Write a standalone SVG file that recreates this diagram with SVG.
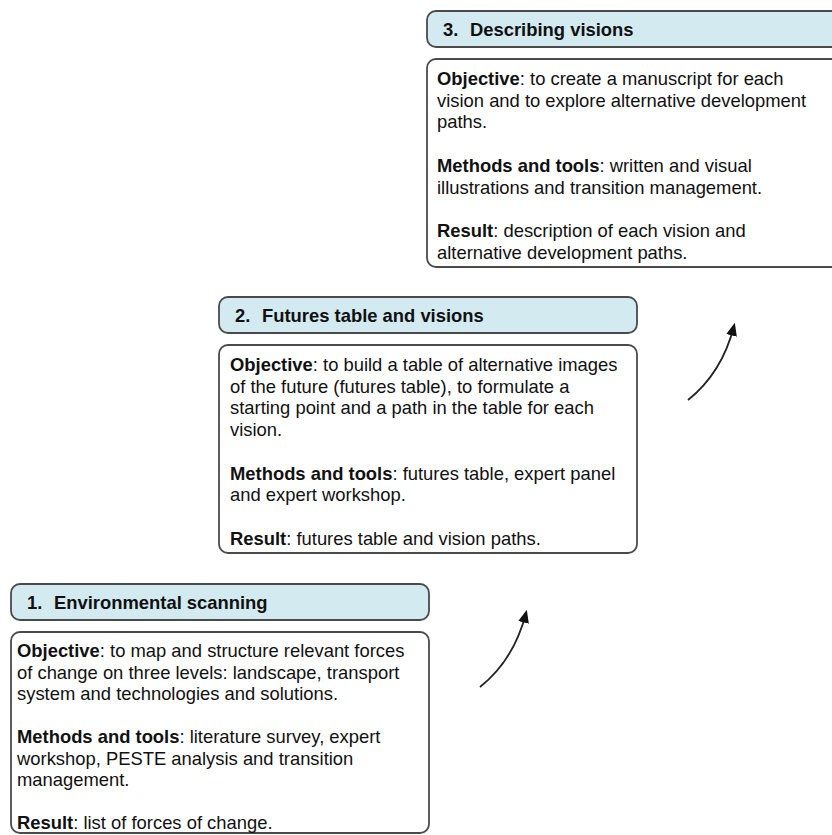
<svg xmlns="http://www.w3.org/2000/svg" width="832" height="835" viewBox="0 0 832 835">
  <defs>
    <style>
      .hdr { fill: #d3eaf1; stroke: #4a4a4a; stroke-width: 1.8; }
      .body { fill: #ffffff; stroke: #4a4a4a; stroke-width: 1.8; }
      text { font-family: "Liberation Sans", Arial, sans-serif; font-size: 18.4px; fill: #111111; }
      .ttl { font-weight: bold; }
      .b { font-weight: bold; }
      .link { fill: none; stroke: #222222; stroke-width: 1.8; }
    </style>
    <marker id="head" markerWidth="13" markerHeight="13" refX="9" refY="5" orient="auto" markerUnits="userSpaceOnUse" viewBox="0 0 12 10">
      <path d="M0,0 L12,5 L0,10 Z" fill="#111111"/>
    </marker>
  </defs>

  <rect width="832" height="835" fill="#ffffff"/>

  <!-- Stage 3 -->
  <g id="stage3" transform="translate(427,11)">
    <rect class="hdr" x="0" y="0" width="418" height="36" rx="9"/>
    <text class="ttl" y="25"><tspan x="16">3.</tspan><tspan x="43">Describing visions</tspan></text>
    <rect class="body" x="0" y="48" width="418" height="208" rx="9"/>
    <text x="10" y="74"><tspan class="b">Objective</tspan>: to create a manuscript for each</text>
    <text x="10" y="95.7">vision and to explore alternative development</text>
    <text x="10" y="117.4">paths.</text>
    <text x="10" y="160.8"><tspan class="b">Methods and tools</tspan>: written and visual</text>
    <text x="10" y="182.5">illustrations and transition management.</text>
    <text x="10" y="225.9"><tspan class="b">Result</tspan>: description of each vision and</text>
    <text x="10" y="247.6">alternative development paths.</text>
  </g>

  <!-- Stage 2 -->
  <g id="stage2" transform="translate(219,297)">
    <rect class="hdr" x="0" y="0" width="418" height="36" rx="9"/>
    <text class="ttl" y="25"><tspan x="16">2.</tspan><tspan x="43">Futures table and visions</tspan></text>
    <rect class="body" x="0" y="48" width="418" height="208" rx="9"/>
    <text x="11" y="74"><tspan class="b">Objective</tspan>: to build a table of alternative images</text>
    <text x="11" y="95.7">of the future (futures table), to formulate a</text>
    <text x="11" y="117.4">starting point and a path in the table for each</text>
    <text x="11" y="139.1">vision.</text>
    <text x="11" y="182.5"><tspan class="b">Methods and tools</tspan>: futures table, expert panel</text>
    <text x="11" y="204.2">and expert workshop.</text>
    <text x="11" y="247.6"><tspan class="b">Result</tspan>: futures table and vision paths.</text>
  </g>

  <!-- Stage 1 -->
  <g id="stage1" transform="translate(11,584)">
    <rect class="hdr" x="0" y="0" width="418" height="36" rx="9"/>
    <text class="ttl" y="25"><tspan x="16">1.</tspan><tspan x="43">Environmental scanning</tspan></text>
    <rect class="body" x="0" y="48" width="418" height="201" rx="9"/>
    <text x="6" y="73"><tspan class="b">Objective</tspan>: to map and structure relevant forces</text>
    <text x="6" y="94.5">of change on three levels: landscape, transport</text>
    <text x="6" y="116">system and technologies and solutions.</text>
    <text x="6" y="159"><tspan class="b">Methods and tools</tspan>: literature survey, expert</text>
    <text x="6" y="180.5">workshop, PESTE analysis and transition</text>
    <text x="6" y="202">management.</text>
    <text x="6" y="245"><tspan class="b">Result</tspan>: list of forces of change.</text>
  </g>

  <!-- Connectors -->
  <g id="connectors">
    <path class="link" d="M480,687 Q514,660 526,613" marker-end="url(#head)"/>
    <path class="link" d="M688,400 Q722,373 734,326" marker-end="url(#head)"/>
  </g>
</svg>
